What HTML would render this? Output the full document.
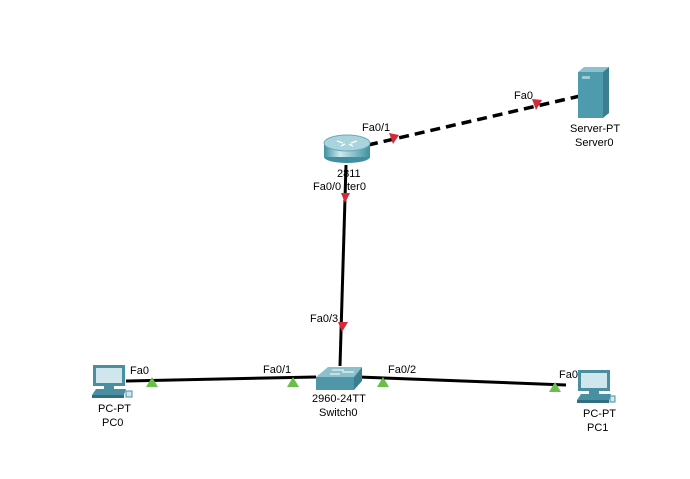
<!DOCTYPE html>
<html><head><style>
html,body{margin:0;padding:0;background:#fff;}
svg{display:block;font-family:"Liberation Sans",Arial,sans-serif;}
text{font-size:11px;fill:#000;}
</style></head><body>
<svg width="690" height="479" viewBox="0 0 690 479" xmlns="http://www.w3.org/2000/svg">
<defs>
<linearGradient id="rg" x1="0" x2="1" y1="0" y2="0">
<stop offset="0" stop-color="#3f8fa0"/><stop offset="0.35" stop-color="#cfe9ef"/><stop offset="1" stop-color="#3f8fa0"/>
</linearGradient>
</defs>
<line x1="368" y1="145" x2="580" y2="96" stroke="#000" stroke-width="3.5" stroke-dasharray="10,6"/>
<line x1="346" y1="165" x2="340" y2="366" stroke="#000" stroke-width="3"/>
<line x1="126" y1="381" x2="316" y2="377" stroke="#000" stroke-width="3"/>
<line x1="358" y1="377" x2="566" y2="385" stroke="#000" stroke-width="3"/>
<polygon points="389,133 399,135 393,144" fill="#d42a3a"/>
<polygon points="532,99 542,100 536,110" fill="#d42a3a"/>
<polygon points="341,193 350,193 345,203" fill="#d42a3a"/>
<polygon points="338,322 348,322 342,332" fill="#d42a3a"/>
<polygon points="146,387 158,387 152,377" fill="#6abf4b"/>
<polygon points="287,387 299,387 293,377" fill="#6abf4b"/>
<polygon points="377,387 389,387 383,377" fill="#6abf4b"/>
<polygon points="549,392 561,392 555,382" fill="#6abf4b"/>
<ellipse cx="347" cy="157" rx="23" ry="6" fill="#3f8fa0"/>
<rect x="324" y="143" width="46" height="14" fill="url(#rg)"/>
<ellipse cx="347" cy="143" rx="23" ry="8" fill="#a9d3dd" stroke="#6aa9b8"/>
<path d="M337 141 l6 2 M357 141 l-6 2 M341 146 l4 -2 M353 146 l-4 -2" stroke="#fff" stroke-width="1.3"/>
<rect x="578" y="72" width="25" height="46" fill="#4f9bae"/>
<polygon points="578,72 584,67 609,67 603,72" fill="#8cc2cf"/>
<polygon points="603,72 609,67 609,113 603,118" fill="#3a7f90"/>
<rect x="582" y="76" width="8" height="3" fill="#9ccbd6"/>
<polygon points="316,377 328,367 362,367 354,377" fill="#8cc1cc"/>
<rect x="316" y="377" width="38" height="13" fill="#4f97a8"/>
<polygon points="354,377 362,367 362,381 354,390" fill="#3a7f90"/>
<path d="M332 370 h12 M342 372 h12 M330 374 h10" stroke="#fff" stroke-width="1"/>
<g transform="translate(90,365)">
<rect x="3" y="0" width="32" height="21" fill="#4a8fa1"/>
<rect x="6" y="3" width="26" height="15" fill="#cfe6ec"/>
<rect x="14" y="21" width="10" height="3" fill="#4a8fa1"/>
<polygon points="2,30 6,24 36,24 34,30" fill="#4a8fa1"/>
<rect x="2" y="30" width="32" height="3" fill="#2f6f80"/>
<rect x="36" y="26" width="6" height="6" fill="#cfe6ec" stroke="#4a8fa1"/>
</g>
<g transform="translate(568,370)">
<rect x="10" y="0" width="32" height="21" fill="#4a8fa1"/>
<rect x="13" y="3" width="26" height="15" fill="#cfe6ec"/>
<rect x="21" y="21" width="10" height="3" fill="#4a8fa1"/>
<polygon points="9,30 13,24 43,24 41,30" fill="#4a8fa1"/>
<rect x="9" y="30" width="32" height="3" fill="#2f6f80"/>
<rect x="42" y="26" width="5" height="6" fill="#cfe6ec" stroke="#4a8fa1"/>
</g>
<text x="362" y="131">Fa0/1</text>
<text x="514" y="99">Fa0</text>
<text x="570" y="132">Server-PT</text>
<text x="575" y="146">Server0</text>
<text x="337" y="177">2811</text>
<text x="313" y="190">Fa0/0</text>
<text x="347" y="190">ter0</text>
<text x="310" y="322">Fa0/3</text>
<text x="130" y="374">Fa0</text>
<text x="263" y="373">Fa0/1</text>
<text x="388" y="373">Fa0/2</text>
<text x="559" y="378">Fa0</text>
<text x="312" y="402">2960-24TT</text>
<text x="319" y="416">Switch0</text>
<text x="98" y="412">PC-PT</text>
<text x="102" y="426">PC0</text>
<text x="583" y="417">PC-PT</text>
<text x="587" y="431">PC1</text>
</svg>
</body></html>
